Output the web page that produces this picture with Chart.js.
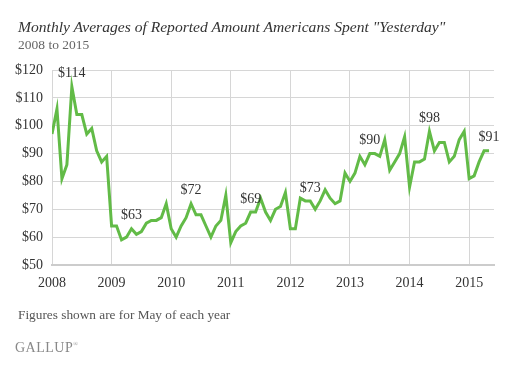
<!DOCTYPE html>
<html>
<head>
<meta charset="utf-8">
<script src="https://cdn.jsdelivr.net/npm/chart.js@4"></script>
<style>
body{margin:0;background:#fff;}
#wrap{position:relative;width:508px;height:369px;font-family:"Liberation Serif",serif;}
#chart1{position:absolute;left:0;top:0;}
.t{position:absolute;white-space:nowrap;}
#title{left:18px;top:18px;font-size:15.6px;font-style:italic;color:#333;}
#sub{left:18px;top:37px;font-size:13.5px;color:#666;}
#note{left:18px;top:307px;font-size:13.3px;color:#555;}
#logo{left:15px;top:340px;font-size:14px;color:#888;letter-spacing:0.5px;}
</style>
</head>
<body>
<div id="wrap">
<canvas id="chart1" width="508" height="369"></canvas>
<div class="t" id="title">Monthly Averages of Reported Amount Americans Spent "Yesterday"</div>
<div class="t" id="sub">2008 to 2015</div>
<div class="t" id="note">Figures shown are for May of each year</div>
<div class="t" id="logo">GALLUP<sup style="font-size:6px">&reg;</sup></div>
</div>
<script>
// monthly averages, Jan 2008 - May 2015
var spent = [
    97, 106, 81, 86, 114, 104, 104, 97, 99, 91, 87, 89,
    64, 64, 59, 60, 63, 61, 62, 65, 66, 66, 67, 72,
    63, 60, 64, 67, 72, 68, 68, 64, 60, 64, 66, 75,
    58, 62, 64, 65, 69, 69, 74, 69, 66, 70, 71, 76,
    63, 63, 74, 73, 73, 70, 73, 77, 74, 72, 73, 83,
    80, 83, 89, 86, 90, 90, 89, 95, 84, 87, 90, 96,
    78, 87, 87, 88, 98, 91, 94, 94, 87, 89, 95, 98,
    81, 82, 87, 91, 91
];
var yearLabels = ["2008", "2009", "2010", "2011", "2012", "2013", "2014", "2015"];
var yTicks = [50, 60, 70, 80, 90, 100, 110, 120];

var points = spent.map(function(v, i){ return {x: i, y: v}; });

// "$114" style labels above each May value
var mayLabels = {
    id: 'mayLabels',
    afterDatasetsDraw: function(chart){
        var c = chart.ctx, xs = chart.scales.x, ys = chart.scales.y;
        c.save();
        c.font = '14px "Liberation Serif", serif';
        c.fillStyle = '#333';
        c.textAlign = 'center';
        c.textBaseline = 'middle';
        for (var i = 4; i < spent.length; i += 12) {
            c.fillText('$' + spent[i], xs.getPixelForValue(i), ys.getPixelForValue(spent[i]) - 13);
        }
        c.restore();
    }
};

var ctx = document.getElementById("chart1").getContext('2d');
var chart = new Chart(ctx, {
    type: 'line',
    data: {
        datasets: [{
            data: points,
            borderColor: '#62bb47',
            borderWidth: 3,
            pointRadius: 0,
            tension: 0,
            fill: false
        }]
    },
    options: {
        responsive: false,
        animation: false,
        layout: { padding: { top: 70, right: 14, left: 0, bottom: 0 } },
        plugins: { legend: { display: false }, tooltip: { enabled: false } },
        scales: {
            x: {
                type: 'linear',
                min: 0,
                max: 89,
                afterFit: function(s){ s.height = 104; },
                ticks: {
                    stepSize: 12,
                    includeBounds: false,
                    padding: 10,
                    color: '#333',
                    font: { family: '"Liberation Serif", serif', size: 14 },
                    callback: function(v){ return yearLabels[v / 12]; }
                },
                grid: { color: '#d6d6d6', drawTicks: false },
                border: { color: '#cccccc', width: 2 }
            },
            y: {
                min: yTicks[0],
                max: yTicks[yTicks.length - 1],
                afterFit: function(s){ s.width = 52; },
                ticks: {
                    stepSize: 10,
                    padding: 9,
                    color: '#333',
                    font: { family: '"Liberation Serif", serif', size: 14 },
                    callback: function(v){ return '$' + v; }
                },
                grid: { color: '#d6d6d6', drawTicks: false },
                border: { display: false }
            }
        }
    },
    plugins: [mayLabels]
});
</script>
</body>
</html>
